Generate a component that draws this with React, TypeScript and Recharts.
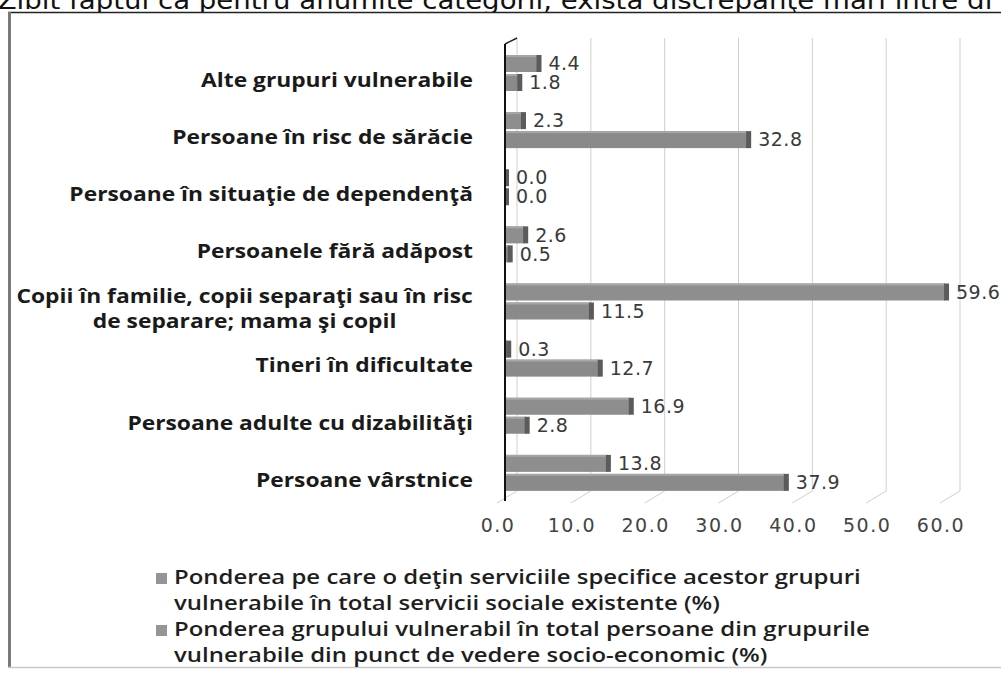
import { Bar, BarChart, CartesianGrid, LabelList, XAxis, YAxis } from "recharts";

const heading = "Zibit faptul ca pentru anumite categorii, exista discrepanţe mari între di";

const categories = [
  "Alte grupuri vulnerabile",
  "Persoane în risc de sărăcie",
  "Persoane în situaţie de dependenţă",
  "Persoanele fără adăpost",
  "Copii în familie, copii separaţi sau în risc\nde separare; mama şi copil",
  "Tineri în dificultate",
  "Persoane adulte cu dizabilităţi",
  "Persoane vârstnice",
];

// upper bar of each pair
const serviciiShare = [4.4, 2.3, 0.0, 2.6, 59.6, 0.3, 16.9, 13.8];
// lower bar of each pair
const grupShare = [1.8, 32.8, 0.0, 0.5, 11.5, 12.7, 2.8, 37.9];

const xTicks = [0, 10, 20, 30, 40, 50, 60];

const seriesNames = [
  "Ponderea pe care o deţin serviciile specifice acestor grupuri\nvulnerabile în total servicii sociale existente (%)",
  "Ponderea grupului vulnerabil în total persoane din grupurile\nvulnerabile din punct de vedere socio-economic (%)",
];

const data = categories.map((name, i) => ({
  name,
  servicii: serviciiShare[i],
  grup: grupShare[i],
}));

const LABEL_FONT = "'Open Sans', sans-serif";
const NUM_FONT = "'DejaVu Sans', sans-serif";
// the scan is stretched sideways a bit
const STRETCH = 1.2;

let ctx: CanvasRenderingContext2D | null = null;
function measure(text: string, font: string) {
  if (!ctx) ctx = document.createElement("canvas").getContext("2d");
  if (!ctx) return text.length * 11;
  ctx.font = font;
  return ctx.measureText(text).width;
}

function CategoryTick(props: any) {
  const { x, y, payload } = props;
  const lines = String(payload.value).split("\n");
  const common = {
    fill: "#1a1a1a",
    fontFamily: LABEL_FONT,
    fontWeight: 700,
    fontSize: 19,
    dominantBaseline: "central" as const,
  };
  if (lines.length === 1) {
    return (
      <text transform={`translate(${x},${y + 7}) scale(${STRETCH},1)`} x={0} y={0} textAnchor="end" {...common}>
        {lines[0]}
      </text>
    );
  }
  const w = Math.max(...lines.map((l) => measure(l, "700 19px 'Open Sans'"))) * STRETCH;
  const cx = x - w / 2;
  return (
    <text transform={`translate(${cx},${y + 7}) scale(${STRETCH},1)`} textAnchor="middle" {...common}>
      {lines.map((l, i) => (
        <tspan key={i} x={0} y={(i - (lines.length - 1) / 2) * 25}>
          {l}
        </tspan>
      ))}
    </text>
  );
}

// front face + darker end cap, like the old 3D excel bars
function Bar3D(props: any) {
  const { x, y, width, height, fill } = props;
  const w = Math.max(width || 0, 0);
  return (
    <g>
      <rect x={x} y={y} width={w} height={height} fill={fill} />
      <rect x={x} y={y} width={w} height={2} fill="#a6a6a6" />
      <rect x={x + w - 1} y={y} width={5} height={height} fill="#5b5b5b" />
    </g>
  );
}

function WallLine(props: any) {
  const { x1, y1, y2, index } = props;
  return (
    <g>
      <line x1={x1 + 12} y1={y1 - 6} x2={x1 + 12} y2={y2 - 10} stroke="#cfcfcf" />
      <line x1={x1 + 12} y1={y2 - 10} x2={x1 - 8} y2={y2 + 2} stroke="#cfcfcf" />
      {index === 0 && <line x1={x1} y1={y1} x2={x1 + 12} y2={y1 - 6} stroke="#222" strokeWidth={1.5} />}
    </g>
  );
}

function Legend() {
  return (
    <div style={{ position: "absolute", left: 156, top: 564 }}>
      {seriesNames.map((name, i) => (
        <div key={i} style={{ display: "flex", alignItems: "flex-start" }}>
          <div style={{ width: 11, height: 11, background: "#959595", marginTop: 9, marginRight: 7 }} />
          <div
            style={{
              fontFamily: LABEL_FONT,
              fontWeight: 600,
              fontSize: 19,
              lineHeight: "26px",
              color: "#1e1e1e",
              whiteSpace: "pre",
              transform: "scaleX(1.26)",
              transformOrigin: "left top",
            }}
          >
            {name}
          </div>
        </div>
      ))}
    </div>
  );
}

const numStyle = { fontSize: 19, fill: "#3a3a3a", fontFamily: NUM_FONT, letterSpacing: 0.5 };

export default function App() {
  return (
    <div style={{ position: "relative", width: 1001, height: 673, overflow: "hidden", background: "#fff" }}>
      <style>{"body{margin:0}"}</style>
      <svg width={1001} height={673} style={{ position: "absolute", left: 0, top: 0 }}>
        <text x={-2} y={9} fontFamily={NUM_FONT} fontSize={24} fill="#111" transform="scale(1.15,1)">
          {heading}
        </text>
        <rect x={0} y={12} width={1001} height={661} fill="#fff" />
        <line x1={8} y1={12.5} x2={1001} y2={12.5} stroke="#222" strokeWidth={1.5} />
        <line x1={9.5} y1={12} x2={9.5} y2={668} stroke="#7a7a7a" strokeWidth={3} />
        <line x1={8} y1={667.5} x2={1001} y2={667.5} stroke="#c8c8c8" strokeWidth={1.5} />
      </svg>
      <div style={{ position: "absolute", left: 0, top: 0 }}>
        <BarChart
          width={1001}
          height={545}
          data={data}
          layout="vertical"
          margin={{ top: 44, right: 53, bottom: 0, left: 0 }}
          barSize={17}
          barGap={2}
        >
          <CartesianGrid horizontal={false} vertical={<WallLine />} />
          <XAxis
            type="number"
            domain={[0, 60]}
            ticks={xTicks}
            axisLine={false}
            tickLine={false}
            height={44}
            tickMargin={12}
            tickFormatter={(v: number) => v.toFixed(1)}
            tick={{ ...numStyle, letterSpacing: 1.5, fill: "#444", dx: -7 }}
          />
          <YAxis
            type="category"
            dataKey="name"
            width={505}
            interval={0}
            tickLine={false}
            tickSize={0}
            tickMargin={32}
            axisLine={{ stroke: "#111", strokeWidth: 2 }}
            tick={<CategoryTick />}
          />
          <Bar dataKey="servicii" fill="#8e8e8e" shape={<Bar3D />} isAnimationActive={false}>
            <LabelList
              dataKey="servicii"
              position="right"
              offset={11}
              formatter={(v: number) => v.toFixed(1)}
              style={numStyle}
            />
          </Bar>
          <Bar dataKey="grup" fill="#8a8a8a" shape={<Bar3D />} isAnimationActive={false}>
            <LabelList
              dataKey="grup"
              position="right"
              offset={11}
              formatter={(v: number) => v.toFixed(1)}
              style={numStyle}
            />
          </Bar>
        </BarChart>
      </div>
      <Legend />
    </div>
  );
}
